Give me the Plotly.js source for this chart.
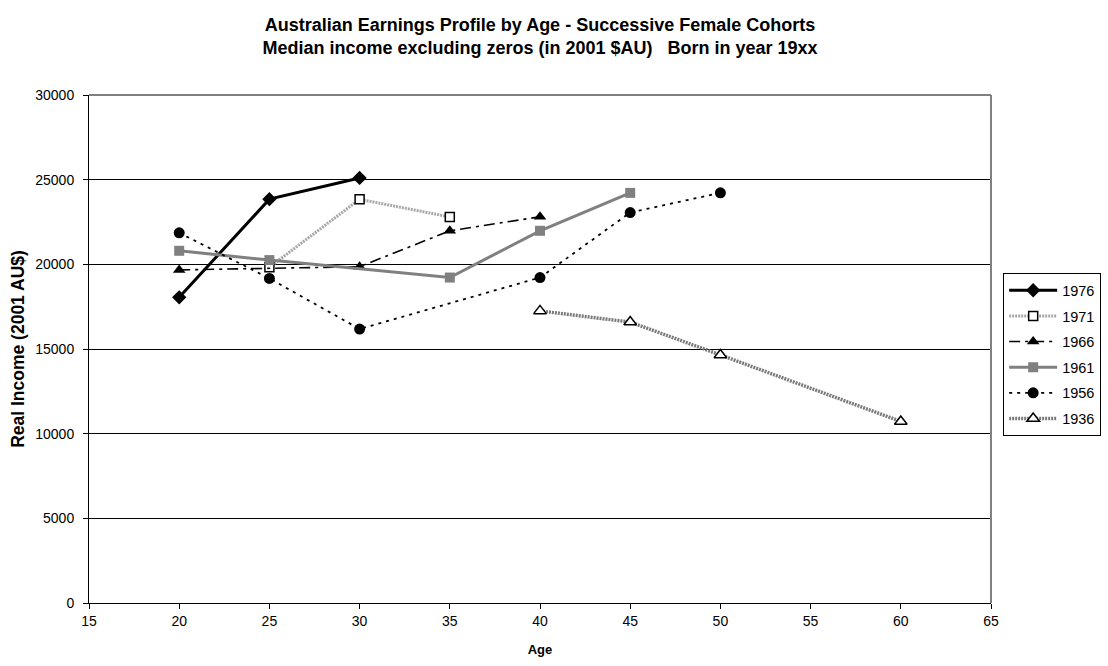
<!DOCTYPE html>
<html>
<head>
<meta charset="utf-8">
<script src="https://cdn.plot.ly/plotly-3.0.1.min.js"></script>
<style>html,body{margin:0;padding:0;background:#fff;}#chart{width:1108px;height:666px;}</style>
</head>
<body>
<div id="chart"></div>
<script>
// Data
const cohorts = ["1976", "1971", "1966", "1961", "1956", "1936"];
const ages1976 = [20, 25, 30];
const vals1976 = [18050, 23850, 25100];
const ages1971 = [25, 30, 35];
const vals1971 = [19830, 23840, 22800];
const ages1966 = [20, 30, 35, 40];
const vals1966 = [19670, 19860, 21980, 22810];
const ages1961 = [20, 25, 35, 40, 45];
const vals1961 = [20800, 20250, 19220, 21980, 24220];
const ages1956 = [20, 25, 30, 40, 45, 50];
const vals1956 = [21860, 19170, 16180, 19220, 23060, 24220];
const ages1936 = [40, 45, 50, 60];
const vals1936 = [17250, 16590, 14650, 10720];
const xTicks = [15, 20, 25, 30, 35, 40, 45, 50, 55, 60, 65];
const yTicks = [0, 5000, 10000, 15000, 20000, 25000, 30000];

const FONT = "Liberation Sans, Arial, sans-serif";

const traces = [
  {x: ages1976, y: vals1976, name: cohorts[0],
   line: {color: "#000", width: 3, dash: "solid"},
   marker: {symbol: "diamond", size: 11, color: "#000"}},
  {x: ages1971, y: vals1971, name: cohorts[1],
   line: {color: "#a8a8a8", width: 3, dash: "2px,1px"},
   marker: {symbol: "square", size: 9, color: "#fff", line: {color: "#000", width: 1.5}}},
  {x: ages1966, y: vals1966, name: cohorts[2],
   line: {color: "#000", width: 1.6, dash: "11px,5px,3px,5px"},
   marker: {symbol: "triangle-up", size: 11, color: "#000"}},
  {x: ages1961, y: vals1961, name: cohorts[3],
   line: {color: "#808080", width: 3, dash: "solid"},
   marker: {symbol: "square", size: 10, color: "#808080"}},
  {x: ages1956, y: vals1956, name: cohorts[4],
   line: {color: "#000", width: 1.8, dash: "3px,5px"},
   marker: {symbol: "circle", size: 11, color: "#000"}},
  {x: ages1936, y: vals1936, name: cohorts[5],
   line: {color: "#7a7a7a", width: 3.5, dash: "2px,1px"},
   marker: {symbol: "triangle-up", size: 11, color: "#fff", line: {color: "#000", width: 1.5}}}
].map((t, i) => Object.assign({type: "scatter", mode: "lines+markers", legendgroup: "g" + i}, t));

const layout = {
  width: 1108, height: 666,
  margin: {l: 89, r: 117, t: 95, b: 63, autoexpand: false},
  paper_bgcolor: "#fff", plot_bgcolor: "#fff",
  font: {family: FONT, size: 14, color: "#000"},
  title: {
    text: "<b>Australian Earnings Profile by Age - Successive Female Cohorts</b><br><b>Median income excluding zeros (in 2001 $AU)   Born in year 19xx</b>",
    font: {family: FONT, size: 18, color: "#000"},
    x: 0.5, xref: "paper", xanchor: "center", yref: "container", y: 0.9535, yanchor: "middle"
  },
  xaxis: {
    range: [15, 65], tickvals: xTicks, ticktext: xTicks.map(String),
    showgrid: false, zeroline: false,
    showline: true, linecolor: "#000", linewidth: 1,
    ticks: "outside", ticklen: 5, tickcolor: "#000",
    tickfont: {family: FONT, size: 14},
    title: {text: "<b>Age</b>", font: {family: FONT, size: 13}, standoff: 17}
  },
  yaxis: {
    range: [0, 30000], tickvals: yTicks, ticktext: yTicks.map(String),
    showgrid: true, gridcolor: "#000", gridwidth: 1, zeroline: false,
    showline: true, linecolor: "#000", linewidth: 1,
    ticks: "outside", ticklen: 5, tickcolor: "#000",
    ticklabelstandoff: 6,
    tickfont: {family: FONT, size: 14},
    title: {text: "<b>Real Income (2001 AU$)</b>", font: {family: FONT, size: 17.5}, standoff: 6}
  },
  shapes: [
    {type: "line", xref: "paper", yref: "paper", x0: 0, x1: 1, y0: 1, y1: 1, line: {color: "#808080", width: 2}},
    {type: "line", xref: "paper", yref: "paper", x0: 1, x1: 1, y0: 0, y1: 1, line: {color: "#808080", width: 2}}
  ],
  legend: {
    x: 1.0135, xanchor: "left", y: 0.649, yanchor: "top",
    bordercolor: "#000", borderwidth: 1, bgcolor: "#fff",
    font: {family: FONT, size: 14.5, color: "#000"},
    traceorder: "grouped", tracegroupgap: 3.8,
    itemwidth: 48
  },
  showlegend: true
};

Plotly.newPlot("chart", traces, layout, {displayModeBar: false, staticPlot: true});
</script>
</body>
</html>
